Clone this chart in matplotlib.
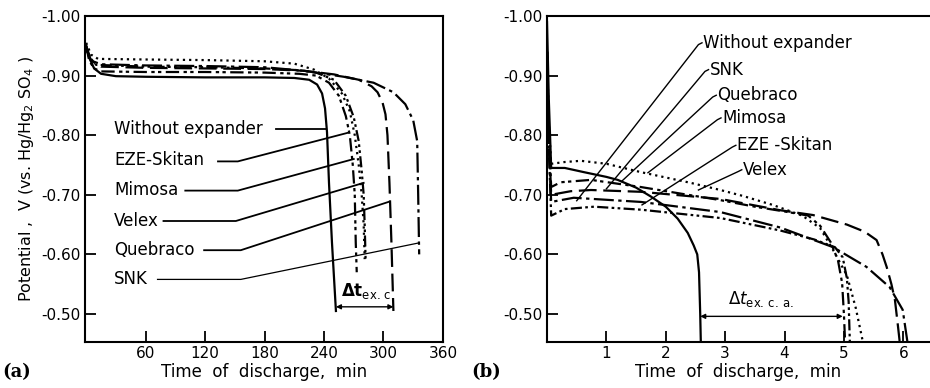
import numpy as np
import matplotlib
matplotlib.use('Agg')
import matplotlib.pyplot as plt

plt.rcParams['font.family'] = 'DejaVu Sans'
plt.rcParams['axes.unicode_minus'] = False

names = ['Without expander', 'EZE-Skitan', 'Mimosa', 'Velex', 'Quebraco', 'SNK']
styles = {
	'Without expander': '-',
	'EZE-Skitan': (0, (6, 2, 1.5, 1.5, 1.5, 2)),
	'Mimosa': (0, (1, 1.8)),
	'Velex': (0, (5, 1.5, 1.2, 1.5, 1.2, 1.5)),
	'Quebraco': (0, (8, 3)),
	'SNK': (0, (9, 2, 1.5, 2)),
}

# ---- panel (a): time in min, potential in V
a_t = {
	'Without expander': [0, 3, 8, 15, 30, 60, 120, 180, 210, 225, 233, 238, 241, 243, 245, 248, 252],
	'EZE-Skitan': [0, 3, 8, 15, 60, 120, 180, 215, 232, 245, 255, 262, 266, 269, 271, 272, 273],
	'Mimosa': [0, 5, 12, 60, 120, 180, 210, 230, 245, 258, 266, 271, 275, 278, 280, 281],
	'Velex': [0, 4, 10, 60, 120, 180, 215, 232, 250, 262, 270, 275, 278, 280, 281, 282],
	'Quebraco': [0, 5, 15, 60, 120, 180, 220, 250, 275, 288, 294, 299, 302, 304, 306, 308, 310],
	'SNK': [0, 5, 15, 60, 120, 180, 220, 260, 290, 310, 322, 330, 334, 335, 336],
}
a_v = {
	'Without expander': [-0.950, -0.930, -0.912, -0.903, -0.899, -0.898, -0.897, -0.897, -0.896, -0.893, -0.885, -0.870, -0.845, -0.805, -0.72, -0.62, -0.505],
	'EZE-Skitan': [-0.950, -0.925, -0.912, -0.907, -0.906, -0.906, -0.905, -0.903, -0.900, -0.888, -0.866, -0.832, -0.800, -0.750, -0.700, -0.620, -0.570],
	'Mimosa': [-0.955, -0.935, -0.928, -0.927, -0.926, -0.924, -0.920, -0.910, -0.895, -0.870, -0.840, -0.800, -0.750, -0.700, -0.650, -0.592],
	'Velex': [-0.950, -0.930, -0.918, -0.915, -0.914, -0.912, -0.909, -0.905, -0.893, -0.866, -0.830, -0.790, -0.740, -0.700, -0.650, -0.588],
	'Quebraco': [-0.945, -0.925, -0.915, -0.913, -0.912, -0.911, -0.908, -0.902, -0.893, -0.882, -0.872, -0.855, -0.835, -0.800, -0.720, -0.620, -0.505],
	'SNK': [-0.945, -0.925, -0.919, -0.917, -0.916, -0.914, -0.908, -0.898, -0.888, -0.872, -0.852, -0.825, -0.790, -0.700, -0.600],
}
a_label_pos = {  # text anchor (t, V)
	'Without expander': (28, -0.810),
	'EZE-Skitan': (28, -0.758),
	'Mimosa': (28, -0.708),
	'Velex': (28, -0.656),
	'Quebraco': (28, -0.607),
	'SNK': (28, -0.558),
}
a_leader_t = {
	'Without expander': [192, 242],
	'EZE-Skitan': [133, 153, 264],
	'Mimosa': [100, 153, 270],
	'Velex': [78, 151, 280],
	'Quebraco': [119, 156, 305],
	'SNK': [72, 156, 335],
}
a_leader_v = {
	'Without expander': [-0.810, -0.810],
	'EZE-Skitan': [-0.756, -0.756, -0.804],
	'Mimosa': [-0.707, -0.707, -0.760],
	'Velex': [-0.656, -0.656, -0.720],
	'Quebraco': [-0.607, -0.607, -0.688],
	'SNK': [-0.558, -0.558, -0.619],
}
a_dt = (252, 310, -0.512)

# ---- panel (b)
b_t = {
	'Without expander': [0.0, 0.03, 0.07, 0.3, 0.62, 1.0, 1.19, 1.5, 1.75, 2.0, 2.2, 2.37, 2.47, 2.53, 2.56, 2.58, 2.59],
	'Mimosa': [0.0, 0.03, 0.07, 0.3, 0.57, 1.0, 1.58, 2.42, 2.92, 3.3, 3.8, 4.3, 4.6, 4.82, 5.05, 5.2, 5.32],
	'Quebraco': [0.0, 0.03, 0.07, 0.4, 0.74, 1.58, 2.92, 3.93, 4.48, 5.05, 5.35, 5.55, 5.65, 5.72, 5.8, 5.86, 5.91, 5.94],
	'EZE-Skitan': [0.0, 0.03, 0.07, 0.23, 0.74, 1.58, 2.92, 3.5, 4.0, 4.4, 4.6, 4.78, 4.9, 4.97, 5.0, 5.02],
	'SNK': [0.0, 0.03, 0.07, 0.45, 1.58, 2.92, 3.93, 4.82, 5.38, 5.77, 5.99, 6.07],
	'Velex': [0.0, 0.03, 0.07, 0.3, 0.79, 1.58, 2.92, 3.93, 4.5, 4.85, 4.98, 5.05, 5.08, 5.1],
}
b_v = {
	'Without expander': [-0.99, -0.86, -0.745, -0.745, -0.738, -0.730, -0.725, -0.712, -0.697, -0.680, -0.660, -0.636, -0.615, -0.600, -0.570, -0.500, -0.453],
	'Mimosa': [-0.94, -0.82, -0.752, -0.755, -0.757, -0.752, -0.738, -0.720, -0.708, -0.698, -0.683, -0.665, -0.644, -0.607, -0.565, -0.510, -0.453],
	'Quebraco': [-0.94, -0.80, -0.700, -0.706, -0.708, -0.705, -0.693, -0.674, -0.666, -0.650, -0.638, -0.624, -0.600, -0.579, -0.550, -0.523, -0.480, -0.453],
	'EZE-Skitan': [-0.94, -0.80, -0.713, -0.721, -0.725, -0.713, -0.691, -0.680, -0.672, -0.665, -0.648, -0.620, -0.590, -0.552, -0.500, -0.453],
	'SNK': [-0.94, -0.78, -0.688, -0.695, -0.688, -0.671, -0.645, -0.612, -0.579, -0.545, -0.507, -0.453],
	'Velex': [-0.94, -0.78, -0.665, -0.676, -0.680, -0.675, -0.661, -0.640, -0.625, -0.612, -0.595, -0.560, -0.520, -0.453],
}
b_label_pos = {
	'Without expander': (2.63, -0.955),
	'SNK': (2.74, -0.910),
	'Quebraco': (2.87, -0.867),
	'Mimosa': (2.95, -0.829),
	'EZE -Skitan': (3.2, -0.783),
	'Velex': (3.3, -0.742),
}
b_leader_t = {
	'Without expander': [2.61, 2.55, 0.5],
	'SNK': [2.72, 2.66, 1.0],
	'Quebraco': [2.85, 2.79, 1.25],
	'Mimosa': [2.93, 2.87, 1.7],
	'EZE -Skitan': [3.18, 3.12, 1.6],
	'Velex': [3.28, 3.22, 2.55],
}
b_leader_v = {
	'Without expander': [-0.955, -0.952, -0.690],
	'SNK': [-0.910, -0.907, -0.710],
	'Quebraco': [-0.867, -0.864, -0.722],
	'Mimosa': [-0.829, -0.826, -0.737],
	'EZE -Skitan': [-0.783, -0.780, -0.683],
	'Velex': [-0.742, -0.739, -0.708],
}
b_dt = (2.58, 4.98, -0.496)

y_ticks = [-1.0, -0.9, -0.8, -0.7, -0.6, -0.5]
y_ticklabels = ['-1.00', '-0.90', '-0.80', '-0.70', '-0.60', '-0.50']
a_xticks = [60, 120, 180, 240, 300, 360]
b_xticks = [1, 2, 3, 4, 5, 6]

fig = plt.figure(figsize=(9.3, 3.88), dpi=100)
ax1 = fig.add_axes([0.0914, 0.1186, 0.3849, 0.8402])
ax2 = fig.add_axes([0.5882, 0.1186, 0.4118, 0.8402])

def style_axis(ax):
	ax.set_ylim(-0.453, -1.0)
	ax.set_yticks(y_ticks)
	ax.set_yticklabels(y_ticklabels)
	ax.tick_params(direction='in', length=8, width=1.3, labelsize=11, pad=3)
	for s in ax.spines.values():
		s.set_linewidth(1.5)

# (a)
for n in names:
	ax1.plot(a_t[n], a_v[n], color='black', lw=1.6, linestyle=styles[n])
	ax1.text(a_label_pos[n][0], a_label_pos[n][1], n, fontsize=12, va='center', ha='left')
	ax1.plot(a_leader_t[n], a_leader_v[n], color='black', lw=1.3 if n != 'SNK' else 0.9)
ax1.annotate('', xy=(a_dt[0], a_dt[2]), xytext=(a_dt[1], a_dt[2]),
	arrowprops=dict(arrowstyle='<|-|>', color='black', lw=1.0, shrinkA=0, shrinkB=0, mutation_scale=7))
ax1.text(a_dt[0] + 5, a_dt[2] - 0.010, r'$\mathbf{\Delta t}_{\mathrm{ex.\,c.}}$', fontsize=12, ha='left', va='bottom')
ax1.set_xlim(-1.2, 359)
ax1.set_xticks(a_xticks)
style_axis(ax1)
ax1.set_xlabel('Time  of  discharge,  min', fontsize=12, labelpad=1)
ax1.set_ylabel('Potential ,  V (vs. Hg/Hg$_2$ SO$_4$ )', fontsize=11.5, labelpad=4)

# (b)
b_styles = dict(styles)
b_styles['EZE -Skitan'] = styles['EZE-Skitan']
for n in b_label_pos:
	key = 'EZE-Skitan' if n == 'EZE -Skitan' else n
	ax2.plot(b_t[key], b_v[key], color='black', lw=1.6, linestyle=b_styles[n])
	ax2.text(b_label_pos[n][0], b_label_pos[n][1], n, fontsize=12, va='center', ha='left')
	ax2.plot(b_leader_t[n], b_leader_v[n], color='black', lw=1.0)
ax2.annotate('', xy=(b_dt[0], b_dt[2]), xytext=(b_dt[1], b_dt[2]),
	arrowprops=dict(arrowstyle='<|-|>', color='black', lw=1.0, shrinkA=0, shrinkB=0, mutation_scale=7))
ax2.text(3.05, b_dt[2] - 0.012, r'$\Delta t_{\mathrm{ex.\,c.\,a.}}$', fontsize=12, ha='left', va='bottom')
ax2.set_xlim(0, 6.45)
ax2.set_xticks(b_xticks)
style_axis(ax2)
ax2.spines['right'].set_visible(False)
ax2.set_xlabel('Time  of  discharge,  min', fontsize=12, labelpad=1)

fig.text(0.002, 0.04, '(a)', fontsize=13, fontweight='bold', family='DejaVu Serif', va='center')
fig.text(0.507, 0.04, '(b)', fontsize=13, fontweight='bold', family='DejaVu Serif', va='center')

fig.savefig('out.png', dpi=100)
